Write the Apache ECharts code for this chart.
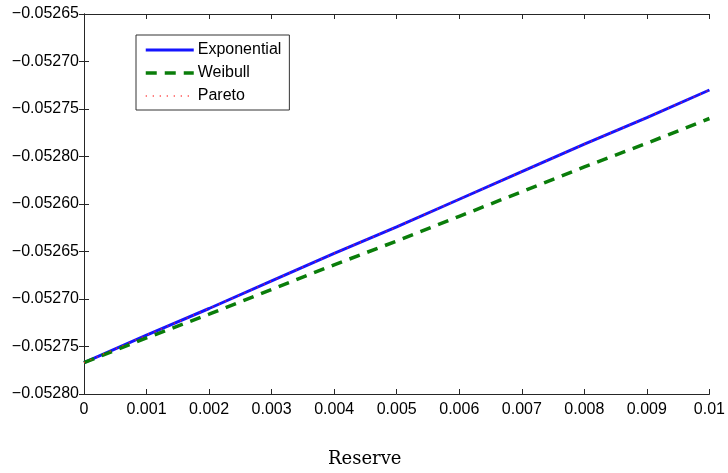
<!DOCTYPE html>
<html>
<head>
<meta charset="utf-8">
<script src="https://cdn.jsdelivr.net/npm/echarts@6/dist/echarts.min.js"></script>
<style>
  html, body { margin: 0; padding: 0; background: #fff; }
  #chart { width: 728px; height: 473px; }
</style>
</head>
<body>
<div id="chart"></div>
<script>
// reserve values (x)
var reserve = [0, 0.001, 0.002, 0.003, 0.004, 0.005, 0.006, 0.007, 0.008, 0.009, 0.01];
var xTickLabels = ['0', '0.001', '0.002', '0.003', '0.004', '0.005', '0.006', '0.007', '0.008', '0.009', '0.01'];

// series
var exponential = [-0.052767, -0.052738, -0.052710, -0.052681, -0.052652, -0.052624, -0.052595, -0.052566, -0.052537, -0.052509, -0.052480];
var weibull     = [-0.052767, -0.052741, -0.052716, -0.052690, -0.052664, -0.052639, -0.052613, -0.052587, -0.052561, -0.052536, -0.052510];
var pareto      = [-0.052767, -0.052738, -0.052710, -0.052681, -0.052652, -0.052624, -0.052595, -0.052566, -0.052537, -0.052509, -0.052480];

// y tick labels as printed (bottom to top)
var yTickLabels = ['\u22120.05280', '\u22120.05275', '\u22120.05270', '\u22120.05265', '\u22120.05260',
                   '\u22120.05280', '\u22120.05275', '\u22120.05270', '\u22120.05265'];
var yMin = -0.05280, yStep = 0.00005, yMax = -0.05240;

function pairs(ys) {
    return reserve.map(function (x, i) { return [x, ys[i]]; });
}

var axisColor = '#262626';
var myChart = echarts.init(document.getElementById('chart'));

option = {
    animation: false,
    grid: { left: 84, right: 15, top: 14, bottom: 79 },
    legend: {
        orient: 'vertical',
        left: 136,
        top: 35,
        padding: [7, 8, 6, 8],
        itemWidth: 48,
        itemHeight: 14,
        itemGap: 7,
        borderColor: '#333',
        borderWidth: 1,
        itemStyle: { opacity: 0 },
        textStyle: { fontFamily: 'Liberation Sans', fontSize: 16, color: '#000', padding: [0, 0, 0, -1] },
        data: [
            { name: 'Exponential', lineStyle: { width: 3 } },
            { name: 'Weibull', lineStyle: { width: 3.5, type: [11, 8] } },
            { name: 'Pareto', lineStyle: { width: 1.5, type: [1, 6] } }
        ]
    },
    xAxis: [
        {
            type: 'value',
            min: 0, max: 0.01, interval: 0.001,
            axisLine: { lineStyle: { color: axisColor, width: 1 } },
            axisTick: { inside: true, length: 5, lineStyle: { color: axisColor } },
            splitLine: { show: false },
            axisLabel: {
                color: '#000', fontFamily: 'Liberation Sans', fontSize: 16, margin: 8,
                formatter: function (v) { return xTickLabels[Math.round(v / 0.001)]; }
            }
        },
        {
            type: 'value', position: 'top',
            min: 0, max: 0.01, interval: 0.001,
            axisLine: { lineStyle: { color: axisColor, width: 1 } },
            axisTick: { inside: true, length: 5, lineStyle: { color: axisColor } },
            splitLine: { show: false },
            axisLabel: { show: false }
        }
    ],
    yAxis: [
        {
            type: 'value',
            min: yMin, max: yMax, interval: yStep,
            axisLine: { show: true, lineStyle: { color: axisColor, width: 1 } },
            axisTick: { show: true, inside: true, length: 5, lineStyle: { color: axisColor } },
            splitLine: { show: false },
            axisLabel: {
                color: '#000', fontFamily: 'Liberation Sans', fontSize: 16, margin: 5,
                formatter: function (v) { return yTickLabels[Math.round((v - yMin) / yStep)]; }
            }
        },
        {
            type: 'value', position: 'right',
            min: yMin, max: yMax, interval: yStep,
            axisLine: { show: true, lineStyle: { color: axisColor, width: 1 } },
            axisTick: { show: true, inside: true, length: 5, lineStyle: { color: axisColor } },
            splitLine: { show: false },
            axisLabel: { show: false }
        }
    ],
    graphic: [
        {
            type: 'text',
            left: 328, top: 450,
            style: { text: 'Reserve', font: '18px "DejaVu Serif"', fill: '#000' }
        }
    ],
    series: [
        {
            name: 'Exponential', type: 'line', symbol: 'none',
            color: '#1515ff',
            lineStyle: { width: 3, color: '#1515ff' },
            data: pairs(exponential)
        },
        {
            name: 'Weibull', type: 'line', symbol: 'none',
            color: '#0a7d0a',
            lineStyle: { width: 3.5, type: [11, 8], color: '#0a7d0a' },
            data: pairs(weibull)
        },
        {
            name: 'Pareto', type: 'line', symbol: 'none',
            color: '#ff2020',
            lineStyle: { width: 1.5, type: [1, 6], color: '#ff2020' },
            data: pairs(pareto)
        }
    ]
};

myChart.setOption(option);
window.addEventListener('resize', function () { myChart.resize(); });
</script>
</body>
</html>
